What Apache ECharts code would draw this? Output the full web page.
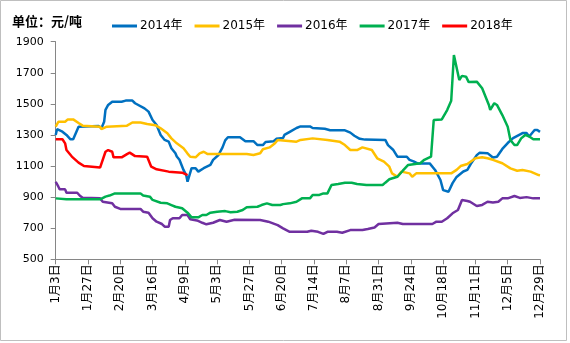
<!DOCTYPE html>
<html><head><meta charset="utf-8">
<script src="https://cdn.jsdelivr.net/npm/echarts@6/dist/echarts.min.js"></script>
<style>html,body{margin:0;padding:0;background:#fff}#c{width:570px;height:343px}</style>
</head><body><div id="c"></div>
<script>
const xTickLabels = ['1月3日','1月27日','2月20日','3月16日','4月9日','5月3日','5月27日','6月20日','7月14日','8月7日','8月31日','9月24日','10月18日','11月11日','12月5日','12月29日'];
const seriesNames = ['2014年','2015年','2016年','2017年','2018年'];
const seriesColors = ['#0070C0','#FFC000','#7030A0','#00B050','#FF0000'];
// [day offset from 1月3日, 元/吨]
const s2014 = [[0,1300],[1,1337],[5,1321],[8,1300],[11,1272],[13,1272],[17,1353],[18,1364],[32,1357],[34,1343],[36,1385],[37,1461],[39,1493],[42,1514],[49,1514],[52,1521],[57,1521],[59,1504],[66,1471],[69,1450],[72,1396],[75,1364],[78,1300],[81,1268],[84,1257],[86,1214],[89,1182],[90,1161],[92,1140],[95,1075],[97,1042],[98,999],[101,1086],[104,1086],[106,1064],[110,1086],[115,1107],[117,1140],[121,1171],[124,1220],[126,1265],[128,1285],[137,1285],[141,1260],[147,1260],[150,1235],[154,1235],[156,1255],[162,1260],[164,1275],[169,1280],[170,1300],[174,1320],[179,1345],[182,1355],[189,1355],[191,1345],[200,1340],[204,1330],[215,1330],[219,1315],[222,1295],[226,1275],[230,1270],[245,1268],[247,1235],[251,1203],[254,1160],[261,1160],[263,1140],[266,1130],[269,1117],[278,1117],[282,1075],[286,1010],[288,945],[292,935],[295,990],[298,1030],[303,1065],[306,1075],[309,1120],[313,1170],[315,1185],[321,1183],[325,1155],[328,1160],[332,1210],[336,1248],[340,1280],[347,1312],[350,1312],[352,1290],[356,1332],[358,1332],[360,1320]];
const s2015 = [[0,1353],[2,1385],[7,1385],[9,1400],[13,1400],[17,1377],[20,1360],[33,1353],[34,1338],[38,1353],[53,1360],[57,1380],[63,1380],[68,1370],[74,1363],[78,1343],[83,1311],[86,1278],[90,1246],[95,1214],[98,1180],[100,1160],[104,1156],[107,1182],[110,1192],[113,1177],[142,1177],[147,1171],[152,1182],[154,1208],[159,1220],[163,1246],[165,1268],[179,1257],[182,1268],[191,1278],[202,1268],[211,1257],[215,1235],[219,1203],[224,1203],[228,1220],[235,1203],[239,1150],[244,1128],[248,1096],[250,1053],[254,1031],[257,1064],[263,1053],[265,1031],[268,1053],[294,1053],[298,1075],[301,1100],[306,1113],[312,1150],[317,1156],[321,1150],[325,1140],[332,1118],[338,1085],[343,1070],[347,1075],[353,1064],[359,1042],[360,1040]];
const s2016 = [[0,999],[2,967],[3,950],[7,950],[8,928],[16,928],[18,909],[20,896],[33,892],[35,870],[42,860],[44,838],[48,824],[63,824],[65,806],[69,800],[72,764],[75,742],[79,727],[81,710],[84,710],[85,753],[87,764],[92,764],[94,785],[98,785],[100,757],[105,750],[109,735],[112,725],[117,735],[122,753],[127,742],[133,755],[152,753],[158,742],[165,720],[169,699],[174,677],[187,677],[190,684],[195,677],[199,663],[202,677],[209,677],[213,671],[219,688],[228,688],[232,695],[237,705],[240,727],[254,735],[258,727],[280,727],[283,742],[287,742],[291,764],[295,796],[299,817],[302,881],[306,875],[308,870],[313,843],[317,850],[321,870],[325,865],[329,870],[332,892],[336,892],[341,907],[345,895],[350,900],[355,892],[360,892]];
const s2017 = [[0,892],[8,886],[33,886],[37,903],[40,910],[44,924],[63,924],[65,910],[70,903],[72,882],[78,864],[83,860],[86,849],[89,838],[94,828],[98,800],[101,770],[106,770],[109,785],[112,785],[115,800],[120,806],[126,810],[130,803],[135,806],[139,817],[142,835],[150,838],[153,849],[157,860],[161,849],[167,849],[169,855],[174,860],[179,870],[183,892],[189,892],[191,914],[196,914],[199,924],[202,924],[205,978],[210,985],[215,993],[220,993],[224,985],[231,978],[243,978],[245,993],[248,1015],[254,1031],[258,1070],[262,1107],[271,1118],[274,1140],[279,1161],[281,1396],[287,1400],[291,1460],[294,1520],[296,1814],[300,1654],[302,1680],[305,1675],[307,1640],[313,1643],[317,1600],[322,1493],[323,1461],[326,1504],[328,1493],[332,1428],[336,1353],[338,1268],[341,1235],[343,1235],[346,1278],[349,1300],[352,1290],[355,1272],[360,1272]];
const s2018 = [[0,1272],[5,1272],[7,1246],[8,1203],[12,1161],[17,1122],[21,1100],[33,1090],[34,1095],[37,1192],[39,1203],[42,1192],[43,1156],[49,1156],[53,1177],[55,1186],[59,1164],[68,1160],[71,1096],[75,1079],[84,1064],[94,1057],[98,1042]];
const allSeries = [s2014,s2015,s2016,s2017,s2018];
const yMin = 500, yMax = 1900, yStep = 200;
const xStep = 24;

const chart = echarts.init(document.getElementById('c'), null, {renderer:'canvas'});
const axisColor = '#868686';
const txtFont = 'DejaVu Sans, Noto Sans CJK SC, sans-serif';
chart.setOption({
  animation:false,
  backgroundColor:'#fff',
  graphic:[{type:'rect',shape:{x:0.5,y:0.5,width:566,height:340},style:{fill:'none',stroke:'#bfbfbf',lineWidth:1},silent:true},
           {type:'text',left:12,top:15,style:{text:'单位：元/吨',font:'bold 13px "Noto Sans CJK SC", sans-serif',fill:'#000'}}],
  legend:{left:107,top:15,itemWidth:25,itemHeight:3,itemGap:12,icon:'rect',
    textStyle:{fontSize:12,fontFamily:txtFont,color:'#000',padding:[0,0,0,-2]},
    data:seriesNames},
  grid:{left:55.7,right:30,top:41.7,bottom:83.7,containLabel:false},
  xAxis:{type:'value',min:0,max:360,interval:xStep,
    axisLine:{lineStyle:{color:axisColor,width:1}},
    axisTick:{show:true,length:5,lineStyle:{color:axisColor}},
    splitLine:{show:false},
    axisLabel:{rotate:90,margin:5,fontSize:12,fontFamily:txtFont,color:'#000',
      formatter:v=>xTickLabels[Math.round(v/xStep)]||''}},
  yAxis:{type:'value',min:yMin,max:yMax,interval:yStep,
    axisLine:{show:true,lineStyle:{color:axisColor,width:1}},
    axisTick:{show:true,length:5,lineStyle:{color:axisColor}},
    splitLine:{show:false},
    axisLabel:{margin:12,fontSize:11,fontFamily:txtFont,color:'#000',formatter:v=>String(v)}},
  series: allSeries.map((d,i)=>({name:seriesNames[i],type:'line',data:d,showSymbol:false,symbol:'none',
    lineStyle:{width:2.5,color:seriesColors[i]},itemStyle:{color:seriesColors[i]},z:2+i}))
});
</script></body></html>
